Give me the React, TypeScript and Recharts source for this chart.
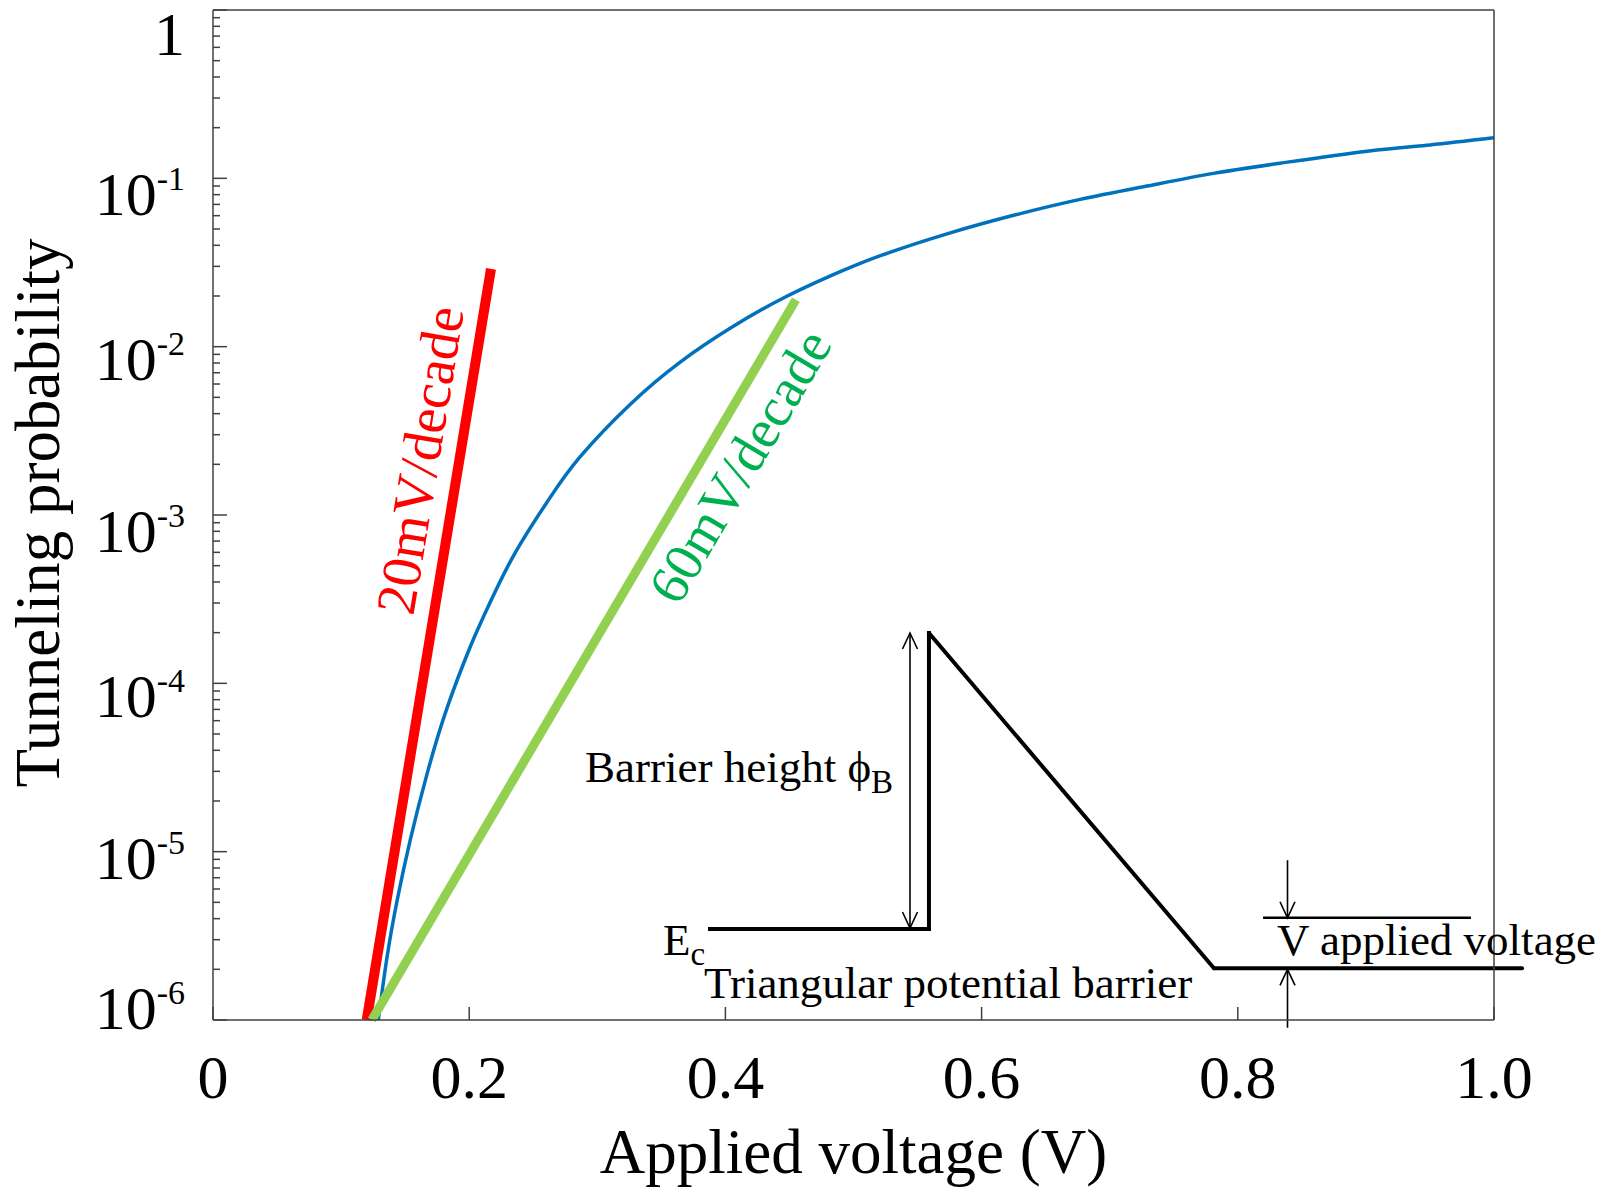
import React from 'react';
import { LineChart, Line, XAxis, YAxis, ReferenceLine, ReferenceDot } from 'recharts';

const FONT = '"Liberation Serif", "Times New Roman", serif';
const AXIS = '#404040';
const BLUE = '#0072BD';
const RED = '#FF0000';
const GREEN_LINE = '#92D050';
const GREEN_TEXT = '#00B050';

// tunneling probability vs applied voltage
const tunnelV = [
  0.129, 0.136, 0.144, 0.154, 0.167, 0.183, 0.201, 0.212, 0.234, 0.261, 0.286, 0.326, 0.365,
  0.404, 0.443, 0.482, 0.521, 0.573, 0.625, 0.677, 0.729, 0.781, 0.833, 0.901, 0.95, 1.0,
];
const tunnelP = [
  1.0e-6, 2.4e-6, 5.25e-6, 1.175e-5, 2.88e-5, 7.24e-5, 1.66e-4, 2.57e-4, 5.62e-4, 1.2e-3,
  2.19e-3, 4.57e-3, 8.13e-3, 1.29e-2, 1.905e-2, 2.63e-2, 3.47e-2, 4.68e-2, 6.03e-2, 7.5e-2,
  9.0e-2, 0.107, 0.123, 0.145, 0.158, 0.174,
];

// guide lines
const slope20V = [0.12, 0.217];
const slope20P = [1e-6, 2.9e-2];
const slope60V = [0.124, 0.455];
const slope60P = [1e-6, 1.9e-2];

const xTicks = [0, 0.2, 0.4, 0.6, 0.8, 1.0];
const xTickLabels = ['0', '0.2', '0.4', '0.6', '0.8', '1.0'];
const yDecades = [1e-6, 1e-5, 1e-4, 1e-3, 1e-2, 1e-1, 1];
const yExponents = ['-6', '-5', '-4', '-3', '-2', '-1', ''];
const yMinorMult = [2, 3, 4, 5, 6, 7, 8, 9];

// inset band diagram (axis units)
const barrierV = [0.388, 0.5589, 0.5589, 0.7814, 1.0219];
const barrierP = [3.47e-6, 3.47e-6, 1.99e-4, 2.03e-6, 2.03e-6];
const appliedLineV = [0.8197, 0.982];
const appliedLineP = 4.05e-6;

const tunnelData = tunnelV.map((v, i) => ({ v, p: tunnelP[i] }));
const slope20Data = slope20V.map((v, i) => ({ v, p: slope20P[i] }));
const slope60Data = slope60V.map((v, i) => ({ v, p: slope60P[i] }));

const yTicks: number[] = [];
yDecades.forEach((d, i) => {
  yTicks.push(d);
  if (i < yDecades.length - 1) yMinorMult.forEach((m) => yTicks.push(d * m));
});

const decadeIndex = (v: number) =>
  yDecades.findIndex((d) => Math.abs(v - d) / d < 1e-6);

// baseline offset of each y label below its tick (matches the original's uneven placement)
const yLabelDy = [9, 27, 34, 37, 33, 37, 45];

const LeftTick = (props: any) => {
  const { x, y, payload } = props;
  const idx = decadeIndex(payload.value);
  const major = idx >= 0;
  return (
    <g>
      <line x1={x} x2={x + (major ? 14 : 7)} y1={y} y2={y} stroke={AXIS} strokeWidth={1.5} />
      {major && (
        <text
          x={x - 28}
          y={y + yLabelDy[idx]}
          textAnchor="end"
          fontFamily={FONT}
          fontSize={62}
          fill="#000"
        >
          {yExponents[idx] === '' ? (
            '1'
          ) : (
            <>
              <tspan>10</tspan>
              <tspan dy={-25} fontSize={34}>
                {yExponents[idx]}
              </tspan>
            </>
          )}
        </text>
      )}
    </g>
  );
};

const RightTick = (props: any) => {
  const { x, y, payload } = props;
  const major = decadeIndex(payload.value) >= 0;
  return <line x1={x} x2={x - (major ? 14 : 7)} y1={y} y2={y} stroke={AXIS} strokeWidth={1.5} />;
};

const BottomTick = (props: any) => {
  const { x, y, payload, index } = props;
  return (
    <g>
      <line x1={x} x2={x} y1={y} y2={y - 13} stroke={AXIS} strokeWidth={1.5} />
      <text x={x} y={y + 78} textAnchor="middle" fontFamily={FONT} fontSize={62} fill="#000">
        {xTickLabels[index] ?? String(payload.value)}
      </text>
    </g>
  );
};

const TopTick = (props: any) => {
  const { x, y } = props;
  return <line x1={x} x2={x} y1={y} y2={y + 13} stroke={AXIS} strokeWidth={1.5} />;
};

const arrowShape = (both: boolean) => (props: any) => {
  const { x1, y1, x2, y2 } = props;
  const head = (tx: number, ty: number, fx: number, fy: number) => {
    const a = Math.atan2(ty - fy, tx - fx);
    const L = 16;
    const W = 7.5;
    const bx = tx - L * Math.cos(a);
    const by = ty - L * Math.sin(a);
    const px = -Math.sin(a) * W;
    const py = Math.cos(a) * W;
    return (
      <path
        d={`M${bx + px},${by + py} L${tx},${ty} L${bx - px},${by - py}`}
        fill="none"
        stroke="#000"
        strokeWidth={1.6}
      />
    );
  };
  return (
    <g>
      <line x1={x1} y1={y1} x2={x2} y2={y2} stroke="#000" strokeWidth={1.6} />
      {head(x2, y2, x1, y1)}
      {both && head(x1, y1, x2, y2)}
    </g>
  );
};

const textShape =
  (content: React.ReactNode, opts: { size?: number; fill?: string; angle?: number; anchor?: string; central?: boolean } = {}) =>
  (props: any) => {
    const { cx, cy } = props;
    const { size = 45, fill = '#000', angle = 0, anchor = 'start', central = false } = opts;
    return (
      <text
        x={cx}
        y={cy}
        fontFamily={FONT}
        fontSize={size}
        fill={fill}
        textAnchor={anchor as any}
        dominantBaseline={central ? 'central' : undefined}
        transform={angle ? `rotate(${angle} ${cx} ${cy})` : undefined}
      >
        {content}
      </text>
    );
  };

const ids = { xAxisId: 'bottom', yAxisId: 'left' } as const;

export default function App() {
  return (
    <div style={{ position: 'absolute', left: 0, top: 0, background: '#fff' }}>
      <LineChart width={1606} height={1189} margin={{ top: 9, right: 111, bottom: 69, left: 63 }}>
        <XAxis
          xAxisId="bottom"
          type="number"
          dataKey="v"
          domain={[0, 1]}
          ticks={xTicks}
          interval={0}
          height={100}
          tickSize={0}
          tickMargin={0}
          tickLine={false}
          axisLine={{ stroke: AXIS, strokeWidth: 1.5 }}
          tick={(p: any) => <BottomTick {...p} />}
          label={{
            content: (p: any) => {
              const vb = p.viewBox || {};
              return (
                <text
                  x={vb.x + vb.width / 2}
                  y={vb.y + 153}
                  textAnchor="middle"
                  fontFamily={FONT}
                  fontSize={63}
                  fill="#000"
                >
                  Applied voltage (V)
                </text>
              );
            },
          }}
        />
        <XAxis
          xAxisId="top"
          orientation="top"
          type="number"
          dataKey="v"
          domain={[0, 1]}
          ticks={xTicks}
          interval={0}
          height={1}
          tickSize={0}
          tickMargin={0}
          tickLine={false}
          axisLine={{ stroke: AXIS, strokeWidth: 1.5 }}
          tick={(p: any) => <TopTick {...p} />}
        />
        <YAxis
          yAxisId="left"
          type="number"
          scale="log"
          domain={[1e-6, 1]}
          ticks={yTicks}
          interval={0}
          width={150}
          tickSize={0}
          tickMargin={0}
          tickLine={false}
          axisLine={{ stroke: AXIS, strokeWidth: 1.5 }}
          tick={(p: any) => <LeftTick {...p} />}
          label={{
            content: (p: any) => {
              const vb = p.viewBox || {};
              const x0 = vb.x - 4;
              const cy = vb.y + vb.height / 2 - 2;
              return (
                <text
                  x={x0}
                  y={cy}
                  textAnchor="middle"
                  fontFamily={FONT}
                  fontSize={63}
                  fill="#000"
                  transform={`rotate(-90 ${x0} ${cy})`}
                >
                  Tunneling probability
                </text>
              );
            },
          }}
        />
        <YAxis
          yAxisId="right"
          orientation="right"
          type="number"
          scale="log"
          domain={[1e-6, 1]}
          ticks={yTicks}
          interval={0}
          width={1}
          tickSize={0}
          tickMargin={0}
          tickLine={false}
          axisLine={{ stroke: AXIS, strokeWidth: 1.5 }}
          tick={(p: any) => <RightTick {...p} />}
        />

        <Line {...ids} data={tunnelData} dataKey="p" type="natural" stroke={BLUE} strokeWidth={3.5} dot={false} isAnimationActive={false} />
        <Line {...ids} data={slope20Data} dataKey="p" type="linear" stroke={RED} strokeWidth={10} dot={false} isAnimationActive={false} />
        <Line {...ids} data={slope60Data} dataKey="p" type="linear" stroke={GREEN_LINE} strokeWidth={9} dot={false} isAnimationActive={false} />

        {/* band diagram inset */}
        {barrierV.slice(0, -1).map((v, i) => (
          <ReferenceLine
            key={`b${i}`}
            {...ids}
            ifOverflow="visible"
            segment={[
              { x: v, y: barrierP[i] },
              { x: barrierV[i + 1], y: barrierP[i + 1] },
            ]}
            stroke="#000"
            strokeWidth={4}
            strokeLinecap={i < 2 ? 'square' : 'round'}
          />
        ))}
        <ReferenceLine
          {...ids}
          ifOverflow="visible"
          segment={[
            { x: appliedLineV[0], y: appliedLineP },
            { x: appliedLineV[1], y: appliedLineP },
          ]}
          stroke="#000"
          strokeWidth={2.5}
        />
        <ReferenceLine
          {...ids}
          ifOverflow="visible"
          segment={[
            { x: 0.5441, y: 1.99e-4 },
            { x: 0.5441, y: 3.52e-6 },
          ]}
          shape={arrowShape(true)}
        />
        <ReferenceLine
          {...ids}
          ifOverflow="visible"
          segment={[
            { x: 0.8388, y: 8.9e-6 },
            { x: 0.8388, y: 4.05e-6 },
          ]}
          shape={arrowShape(false)}
        />
        <ReferenceLine
          {...ids}
          ifOverflow="visible"
          segment={[
            { x: 0.8388, y: 9.0e-7 },
            { x: 0.8388, y: 2.0e-6 },
          ]}
          shape={arrowShape(false)}
        />

        <ReferenceDot
          {...ids}
          ifOverflow="visible"
          x={0.2904}
          y={2.59e-5}
          r={0}
          shape={textShape(
            <>
              Barrier height ϕ
              <tspan dy={11} fontSize={33}>
                B
              </tspan>
            </>
          )}
        />
        <ReferenceDot
          {...ids}
          ifOverflow="visible"
          x={0.3513}
          y={2.43e-6}
          r={0}
          shape={textShape(
            <>
              E
              <tspan dy={10} fontSize={33}>
                c
              </tspan>
            </>
          )}
        />
        <ReferenceDot
          {...ids}
          ifOverflow="visible"
          x={0.3833}
          y={1.35e-6}
          r={0}
          shape={textShape('Triangular potential barrier')}
        />
        <ReferenceDot
          {...ids}
          ifOverflow="visible"
          x={0.8306}
          y={2.43e-6}
          r={0}
          shape={textShape('V applied voltage')}
        />
        <ReferenceDot
          {...ids}
          ifOverflow="visible"
          x={0.1616}
          y={2.12e-3}
          r={0}
          shape={textShape('20mV/decade', { size: 56, fill: RED, angle: -80.6, anchor: 'middle', central: true })}
        />
        <ReferenceDot
          {...ids}
          ifOverflow="visible"
          x={0.4114}
          y={1.95e-3}
          r={0}
          shape={textShape('60mV/decade', { size: 55, fill: GREEN_TEXT, angle: -59.5, anchor: 'middle', central: true })}
        />
      </LineChart>
    </div>
  );
}
